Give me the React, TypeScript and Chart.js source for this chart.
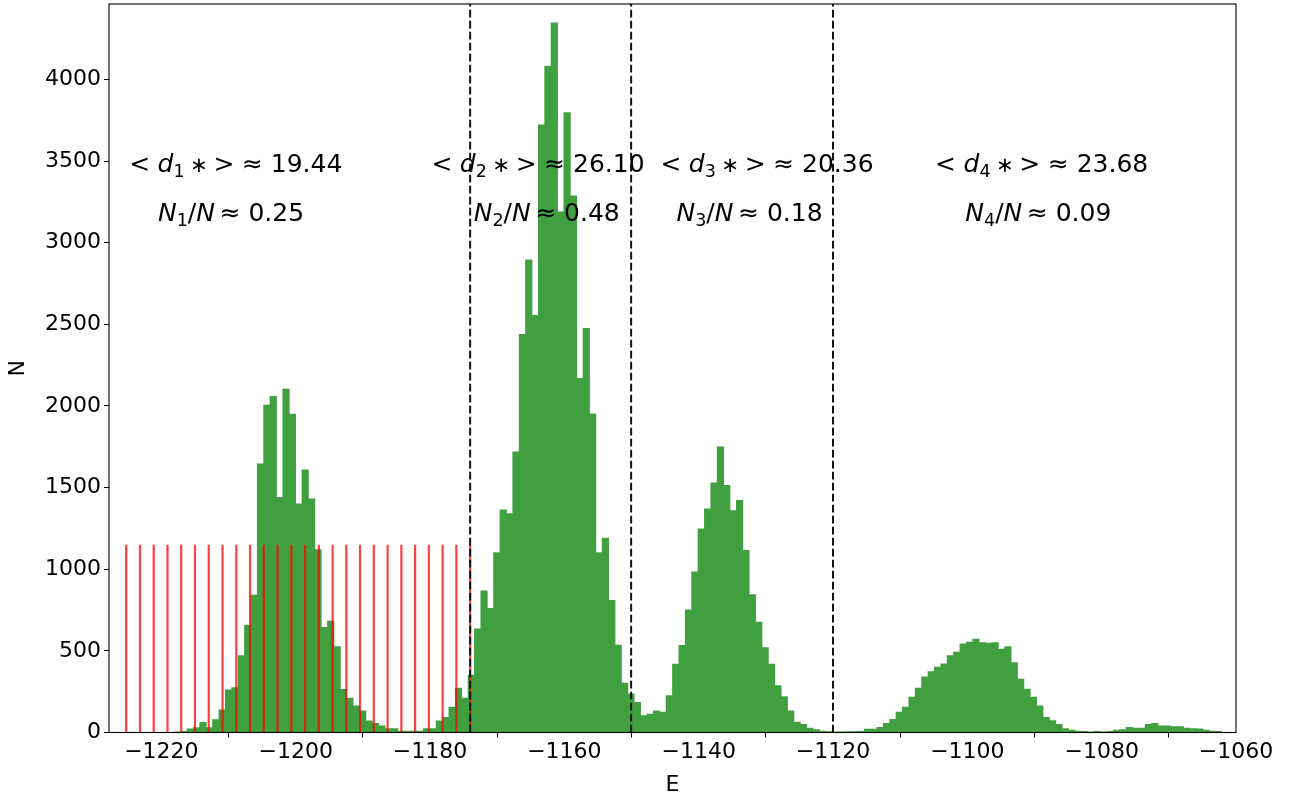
import { useEffect, useRef } from "react";
import { Chart, registerables } from "chart.js";

Chart.register(...registerables);

// ---------- data ----------
const BIN_START = -1218.085; // left edge of the first histogram bin
const BIN_WIDTH = 0.9511;

const counts = [
  2, 6, 22, 30, 62, 30, 79, 138, 261, 274,
  471, 658, 842, 1645, 2005, 2058, 1440, 2103, 1950, 1400,
  1608, 1431, 1120, 643, 682, 526, 264, 210, 163, 132,
  71, 56, 40, 23, 23, 9, 9, 9, 9, 23,
  23, 71, 93, 155, 271, 210, 352, 635, 868, 760,
  1101, 1363, 1340, 1719, 2439, 2894, 2555, 3721, 4081, 4347,
  3189, 3797, 3287, 2169, 2475, 1952, 1101, 1191, 809, 535,
  302, 236, 185, 103, 112, 132, 124, 226, 418, 533,
  751, 983, 1247, 1369, 1529, 1750, 1514, 1359, 1422, 1115,
  844, 676, 520, 418, 287, 220, 132, 63, 50, 26,
  17, 9, 5, 1, 2, 5, 5, 6, 20, 20,
  32, 56, 81, 124, 155, 216, 271, 340, 373, 400,
  420, 471, 492, 543, 553, 572, 551, 547, 551, 510,
  526, 428, 326, 265, 216, 163, 93, 72, 50, 24,
  15, 9, 7, 2, 6, 1, 6, 14, 17, 32,
  26, 26, 50, 56, 40, 40, 36, 36, 26, 24,
  22, 15, 9, 6,
];

const redLines = [
  -1225.24, -1223.19, -1221.14, -1219.09, -1217.05, -1215.0, -1212.95,
  -1210.9, -1208.85, -1206.8, -1204.76, -1202.71, -1200.66, -1198.61,
  -1196.56, -1194.51, -1192.47, -1190.42, -1188.37, -1186.32, -1184.27,
  -1182.22, -1180.18, -1178.13, -1176.08, -1174.03,
];
const RED_HEIGHT = 1150;

const dividers = [-1174.03, -1150.06, -1120.0];

const X_MIN = -1227.8;
const X_MAX = -1060;
const Y_MAX = 4462;
const xTickValues = [-1220, -1200, -1180, -1160, -1140, -1120, -1100, -1080, -1060];
const yTickValues = [0, 500, 1000, 1500, 2000, 2500, 3000, 3500, 4000];

const dValues = ["19.44", "26.10", "20.36", "23.68"];
const fracValues = ["0.25", "0.48", "0.18", "0.09"];
const dTextX = [-1224.8, -1179.8, -1145.7, -1104.8];
const nTextX = [-1220.5, -1173.5, -1143.3, -1100.3];
const D_TEXT_Y = 3436;
const N_TEXT_Y = 3130;

// ---------- styles ----------
const FONT = '"DejaVu Sans", "Liberation Sans", sans-serif';
const TICK_SIZE = 22;
const ANNO_SIZE = 25;

type Seg = { t?: string; it?: boolean; sub?: boolean; gap?: number; scale?: number };

function drawRich(ctx: CanvasRenderingContext2D, segs: Seg[], x: number, y: number, size: number) {
  let pen = x;
  for (const s of segs) {
    if (s.gap) {
      pen += s.gap * size;
      continue;
    }
    const fs = s.sub ? size * 0.7 : size * (s.scale || 1);
    ctx.font = `${s.it ? "italic " : ""}${fs}px ${FONT}`;
    const dy = s.sub ? size * 0.2 : 0;
    ctx.fillText(s.t || "", pen, y + dy);
    pen += ctx.measureText(s.t || "").width;
  }
}

const framePlugin = {
  id: "frame",
  afterDraw(chart: any) {
    const { ctx, chartArea } = chart;
    ctx.save();
    ctx.strokeStyle = "#000";
    ctx.lineWidth = 1.1;
    ctx.strokeRect(chartArea.left, chartArea.top, chartArea.right - chartArea.left, chartArea.bottom - chartArea.top);
    ctx.restore();
  },
};

const annotationPlugin = {
  id: "annotations",
  afterDraw(chart: any) {
    const { ctx } = chart;
    const xs = chart.scales.x;
    const ys = chart.scales.y;
    ctx.save();
    ctx.fillStyle = "#000";
    ctx.textAlign = "left";
    ctx.textBaseline = "alphabetic";
    for (let i = 0; i < dValues.length; i++) {
      const k = String(i + 1);
      drawRich(
        ctx,
        [
          { t: "<" },
          { gap: 0.3 },
          { t: "d", it: true },
          { t: k, sub: true },
          { gap: 0.22 },
          { t: "\u2217", scale: 0.85 },
          { gap: 0.22 },
          { t: ">" },
          { gap: 0.3 },
          { t: "\u2248" },
          { t: " " + dValues[i] },
        ],
        xs.getPixelForValue(dTextX[i]),
        ys.getPixelForValue(D_TEXT_Y),
        ANNO_SIZE
      );
      drawRich(
        ctx,
        [
          { t: "N", it: true },
          { t: k, sub: true },
          { t: "/" },
          { t: "N", it: true },
          { gap: 0.18 },
          { t: "\u2248" },
          { t: " " + fracValues[i] },
        ],
        xs.getPixelForValue(nTextX[i]),
        ys.getPixelForValue(N_TEXT_Y),
        ANNO_SIZE
      );
    }
    ctx.restore();
  },
};

const minus = (v: number) => (v < 0 ? "\u2212" + Math.abs(v) : String(v));

export default function App() {
  const ref = useRef<HTMLCanvasElement | null>(null);

  useEffect(() => {
    if (!ref.current) return;
    const histData = counts.map((c, i) => ({ x: BIN_START + (i + 0.5) * BIN_WIDTH, y: c }));
    const redData: any[] = [];
    redLines.forEach((e) => {
      redData.push({ x: e, y: 0 }, { x: e, y: RED_HEIGHT }, { x: e, y: null });
    });
    const divData: any[] = [];
    dividers.forEach((e) => {
      divData.push({ x: e, y: 0 }, { x: e, y: Y_MAX }, { x: e, y: null });
    });

    const tickFont = { family: FONT, size: TICK_SIZE };
    const chart = new Chart(ref.current, {
      type: "bar",
      data: {
        datasets: [
          {
            type: "line",
            data: divData,
            borderColor: "#111",
            borderWidth: 2,
            borderDash: [7.7, 3.3],
            pointRadius: 0,
            spanGaps: false,
            order: 0,
          } as any,
          {
            type: "line",
            data: redData,
            borderColor: "rgba(255,0,0,0.75)",
            borderWidth: 2.2,
            pointRadius: 0,
            spanGaps: false,
            order: 1,
          } as any,
          {
            type: "bar",
            data: histData,
            backgroundColor: "#40a040",
            borderWidth: 0,
            barPercentage: 1,
            categoryPercentage: 1,
            inflateAmount: 0.4,
            order: 2,
          } as any,
        ],
      },
      options: {
        animation: false,
        responsive: false,
        devicePixelRatio: 1,
        layout: { padding: { left: 0, top: 4, right: 71, bottom: 0 } },
        plugins: { legend: { display: false }, tooltip: { enabled: false } },
        scales: {
          x: {
            type: "linear",
            min: X_MIN,
            max: X_MAX,
            offset: false,
            border: { display: false },
            grid: { display: true, drawOnChartArea: false, drawTicks: true, tickLength: 5, color: "#000", lineWidth: 1 },
            afterBuildTicks: (s: any) => {
              s.ticks = xTickValues.map((v) => ({ value: v }));
            },
            ticks: {
              autoSkip: false,
              maxRotation: 0,
              padding: 2,
              color: "#000",
              font: tickFont,
              callback: (v: any) => minus(Number(v)),
            },
            title: { display: true, text: "E", color: "#000", font: tickFont, padding: { top: 1.8, bottom: 0 } },
            afterFit: (s: any) => {
              s.height = 65.5;
              s.paddingLeft = 0;
              s.paddingRight = 0;
            },
          },
          y: {
            type: "linear",
            min: 0,
            max: Y_MAX,
            border: { display: false },
            grid: { display: true, drawOnChartArea: false, drawTicks: true, tickLength: 5, color: "#000", lineWidth: 1 },
            afterBuildTicks: (s: any) => {
              s.ticks = yTickValues.map((v) => ({ value: v }));
            },
            ticks: {
              autoSkip: false,
              padding: 3,
              color: "#000",
              font: tickFont,
              callback: (v: any) => String(v),
            },
            title: { display: true, text: "N", color: "#000", font: tickFont, padding: { top: 4.8, bottom: 0 } },
            afterFit: (s: any) => {
              s.width = 109;
              s.paddingTop = 0;
              s.paddingBottom = 0;
            },
          },
        },
      } as any,
      plugins: [framePlugin, annotationPlugin],
    });
    return () => chart.destroy();
  }, []);

  return (
    <div style={{ position: "fixed", left: 0, top: 0, width: 1307, height: 798, background: "#fff" }}>
      <canvas ref={ref} width={1307} height={798} style={{ width: 1307, height: 798, display: "block" }} />
    </div>
  );
}
